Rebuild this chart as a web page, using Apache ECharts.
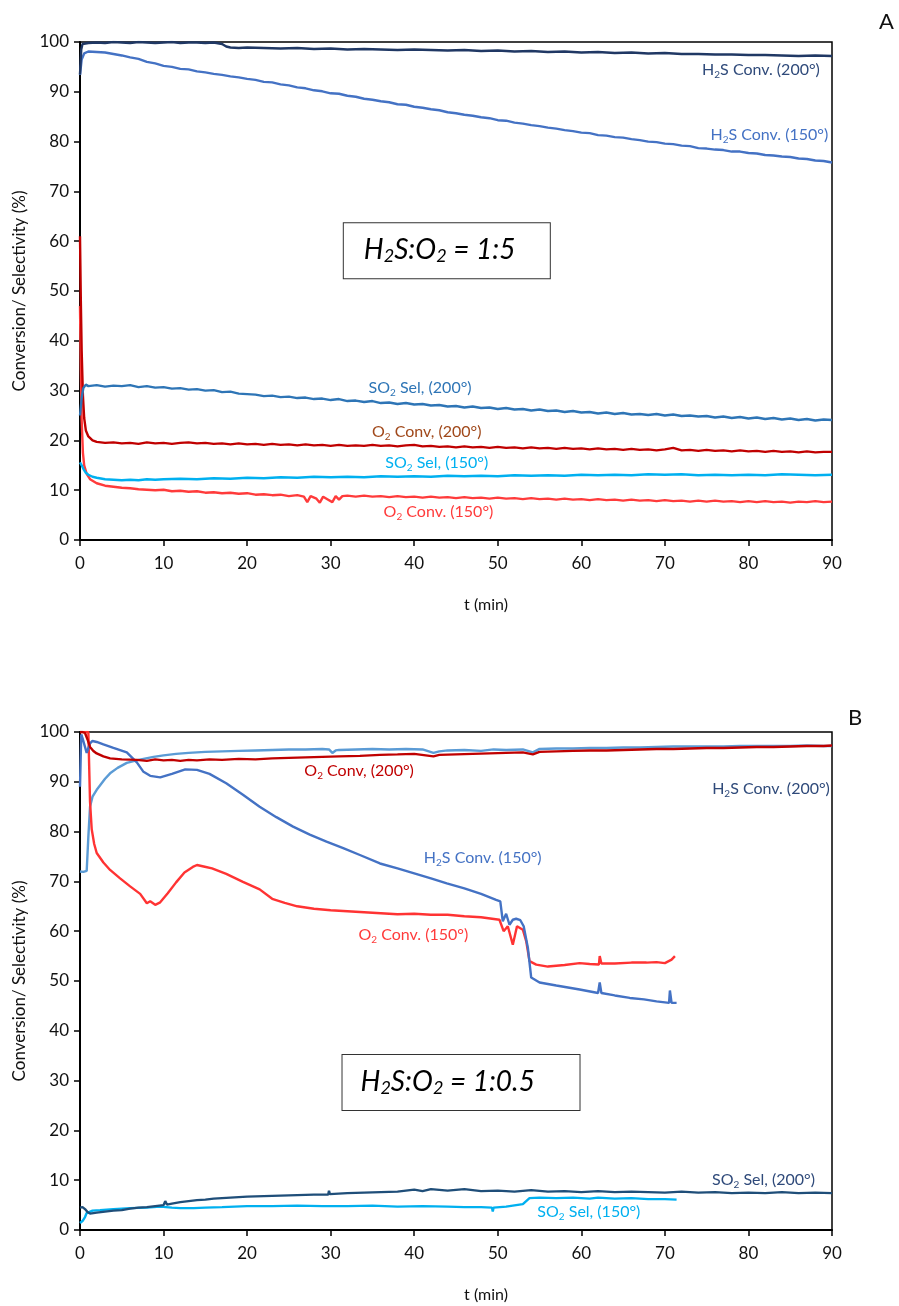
<!DOCTYPE html>
<html>
<head>
<meta charset="utf-8">
<script src="https://cdn.jsdelivr.net/npm/echarts@6/dist/echarts.min.js"></script>
<style>
  html, body { margin: 0; padding: 0; background: #fff; }
  #chart { width: 899px; height: 1306px; }
</style>
</head>
<body>
<div id="chart"></div>
<script>
// ---------- axes ----------
const tRange = [0, 90];
const tStep = 10;
const yRange = [0, 100];
const yStep = 10;
const xAxisName = 't (min)';
const yAxisName = 'Conversion/ Selectivity (%)';

// ---------- panel A  (H2S:O2 = 1:5) ----------  [t (min), value (%)]
const a_h2s200 = [[0,93.5],[0.15,98.5],[0.3,99.6],[1,99.8],[2,99.9],[3,99.8],[4,100],[5,99.9],[6,99.8],[7,100],[8,99.9],[9,99.8],[10,99.9],[11,100],[12,99.8],[13,99.9],[14,99.9],[15,99.8],[16,99.9],[17,99.6],[17.5,99.1],[18,98.9],[19,98.8],[20,98.9],[22,98.8],[24,98.7],[26,98.8],[28,98.6],[30,98.7],[32,98.5],[34,98.6],[36,98.5],[38,98.4],[40,98.5],[42,98.4],[44,98.3],[46,98.4],[48,98.2],[50,98.3],[52,98.1],[54,98.2],[56,98.0],[58,98.1],[60,97.9],[62,98.0],[64,97.8],[66,97.9],[68,97.7],[70,97.8],[72,97.6],[74,97.6],[76,97.5],[78,97.5],[80,97.4],[82,97.4],[84,97.3],[86,97.2],[88,97.3],[90,97.2]];
const a_h2s150 = [[0,93.4],[0.2,96.5],[0.5,97.7],[1,98.1],[2,98.0],[3,97.9],[4,97.6],[5,97.3],[6,96.9],[7,96.6],[8,96.0],[9,95.7],[10,95.2],[11,95.0],[12,94.6],[13,94.5],[14,94.1],[15,93.9],[16,93.6],[17,93.4],[18,93.1],[19,92.9],[20,92.6],[21,92.4],[22,92.0],[23,91.9],[24,91.5],[25,91.3],[26,90.9],[27,90.7],[28,90.3],[29,90.1],[30,89.7],[31,89.6],[32,89.2],[33,89.0],[34,88.6],[35,88.4],[36,88.1],[37,87.9],[38,87.5],[39,87.4],[40,87.0],[41,86.8],[42,86.5],[43,86.3],[44,85.9],[45,85.7],[46,85.4],[47,85.2],[48,84.9],[49,84.7],[50,84.3],[51,84.2],[52,83.8],[53,83.6],[54,83.3],[55,83.1],[56,82.8],[57,82.6],[58,82.3],[59,82.1],[60,81.8],[61,81.7],[62,81.3],[63,81.2],[64,80.9],[65,80.8],[66,80.5],[67,80.3],[68,80.0],[69,79.9],[70,79.6],[71,79.5],[72,79.2],[73,79.1],[74,78.7],[75,78.6],[76,78.4],[77,78.3],[78,78.0],[79,78.0],[80,77.7],[81,77.6],[82,77.3],[83,77.2],[84,77.0],[85,76.9],[86,76.6],[87,76.5],[88,76.2],[89,76.1],[90,75.8]];
const a_so2sel200 = [[0,25],[0.2,28.5],[0.4,30.5],[0.7,31.2],[1,30.9],[2,31.1],[3,30.8],[4,31.0],[5,30.9],[6,31.1],[7,30.7],[8,30.9],[9,30.6],[10,30.7],[11,30.4],[12,30.5],[13,30.2],[14,30.3],[15,30.0],[16,30.1],[17,29.7],[18,29.8],[19,29.4],[20,29.3],[21,29.2],[22,28.9],[23,29.0],[24,28.7],[25,28.8],[26,28.5],[27,28.6],[28,28.3],[29,28.4],[30,28.1],[31,28.3],[32,27.9],[33,28.0],[34,27.7],[35,27.9],[36,27.5],[37,27.6],[38,27.3],[39,27.5],[40,27.2],[41,27.3],[42,27.0],[43,27.1],[44,26.8],[45,26.9],[46,26.6],[47,26.8],[48,26.5],[49,26.6],[50,26.3],[51,26.5],[52,26.2],[53,26.3],[54,26.0],[55,26.2],[56,25.9],[57,26.0],[58,25.7],[59,25.9],[60,25.6],[61,25.7],[62,25.4],[63,25.6],[64,25.3],[65,25.5],[66,25.2],[67,25.3],[68,25.1],[69,25.3],[70,25.0],[71,25.2],[72,24.9],[73,25.0],[74,24.8],[75,24.9],[76,24.6],[77,24.8],[78,24.5],[79,24.7],[80,24.4],[81,24.6],[82,24.3],[83,24.5],[84,24.2],[85,24.4],[86,24.1],[87,24.3],[88,24.0],[89,24.2],[90,24.1]];
const a_o2conv200 = [[0,61],[0.1,48],[0.2,38],[0.35,29],[0.5,24.5],[0.7,22],[1,20.8],[1.5,20.0],[2,19.7],[3,19.5],[4,19.6],[5,19.4],[6,19.5],[7,19.3],[8,19.6],[9,19.4],[10,19.5],[11,19.3],[12,19.5],[13,19.6],[14,19.4],[15,19.5],[16,19.3],[17,19.4],[18,19.2],[19,19.4],[20,19.2],[21,19.3],[22,19.1],[23,19.3],[24,19.1],[25,19.2],[26,19.0],[27,19.2],[28,19.0],[29,19.1],[30,18.9],[31,19.1],[32,18.9],[33,19.0],[34,18.9],[35,19.1],[36,18.9],[37,19.0],[38,18.8],[39,19.0],[40,19.1],[41,18.8],[42,18.9],[43,18.7],[44,18.8],[45,18.6],[46,18.8],[47,18.6],[48,18.7],[49,18.5],[50,18.7],[51,18.5],[52,18.6],[53,18.4],[54,18.6],[55,18.4],[56,18.5],[57,18.3],[58,18.5],[59,18.3],[60,18.4],[61,18.2],[62,18.4],[63,18.2],[64,18.3],[65,18.1],[66,18.3],[67,18.1],[68,18.2],[69,18.0],[70,18.2],[71,18.5],[72,18.0],[73,18.1],[74,17.9],[75,18.1],[76,17.9],[77,18.0],[78,17.8],[79,18.0],[80,17.8],[81,17.9],[82,17.7],[83,17.9],[84,17.7],[85,17.8],[86,17.6],[87,17.8],[88,17.6],[89,17.7],[90,17.7]];
const a_so2sel150 = [[0,15.6],[0.2,15.0],[0.4,14.3],[0.7,13.5],[1,13.1],[1.5,12.7],[2,12.5],[3,12.2],[4,12.1],[5,12.0],[6,12.1],[7,12.0],[8,12.2],[9,12.1],[10,12.2],[12,12.3],[14,12.2],[16,12.4],[18,12.3],[20,12.5],[22,12.4],[24,12.6],[26,12.5],[28,12.7],[30,12.6],[32,12.7],[34,12.6],[36,12.8],[38,12.7],[40,12.8],[42,12.7],[44,12.9],[46,12.8],[48,12.9],[50,12.8],[52,13.0],[54,12.9],[56,13.0],[58,12.9],[60,13.1],[62,13.0],[64,13.1],[66,13.0],[68,13.2],[70,13.1],[72,13.2],[74,13.0],[76,13.1],[78,13.0],[80,13.1],[82,13.0],[84,13.2],[86,13.1],[88,13.0],[90,13.1]];
const a_o2conv150 = [[0,47],[0.1,34],[0.2,24],[0.35,17.5],[0.5,15.0],[0.8,13.3],[1.2,12.2],[2,11.4],[3,10.9],[4,10.7],[5,10.5],[6,10.4],[7,10.2],[8,10.1],[9,10.0],[10,10.1],[11,9.8],[12,9.9],[13,9.7],[14,9.8],[15,9.5],[16,9.6],[17,9.4],[18,9.5],[19,9.3],[20,9.4],[21,9.1],[22,9.2],[23,9.0],[24,9.1],[25,8.8],[26,9.0],[26.8,8.7],[27.2,7.6],[27.6,8.8],[28.3,8.3],[28.7,7.5],[29.1,8.7],[29.6,8.2],[30.2,7.6],[30.6,8.8],[31,8.1],[31.4,8.8],[32,8.9],[33,8.7],[34,8.9],[35,8.7],[36,8.8],[37,8.6],[38,8.8],[39,8.6],[40,8.7],[41,8.5],[42,8.7],[43,8.5],[44,8.6],[45,8.4],[46,8.6],[47,8.4],[48,8.5],[49,8.3],[50,8.5],[51,8.3],[52,8.4],[53,8.2],[54,8.4],[55,8.2],[56,8.3],[57,8.1],[58,8.3],[59,8.1],[60,8.2],[61,8.0],[62,8.2],[63,8.0],[64,8.1],[65,7.9],[66,8.1],[67,7.9],[68,8.0],[69,7.8],[70,8.0],[71,7.8],[72,7.9],[73,7.7],[74,7.9],[75,7.7],[76,7.9],[77,7.7],[78,7.8],[79,7.6],[80,7.8],[81,7.6],[82,7.8],[83,7.6],[84,7.7],[85,7.5],[86,7.7],[87,7.6],[88,7.8],[89,7.6],[90,7.7]];

// ---------- panel B  (H2S:O2 = 1:0.5) ----------
const b_h2s200 = [[0,72.0],[0.4,71.9],[0.8,72.1],[1.0,79],[1.2,85],[1.5,87],[2,88.4],[2.5,89.5],[3,90.6],[3.6,91.7],[4.5,92.8],[5.6,93.8],[7,94.4],[8.8,95.0],[10,95.3],[11.5,95.6],[13,95.8],[15,96.0],[17,96.1],[19,96.2],[21,96.3],[23,96.4],[25,96.5],[27,96.5],[29,96.6],[29.8,96.5],[30.2,95.8],[30.6,96.3],[31,96.4],[33,96.5],[35,96.6],[37,96.5],[39,96.6],[41,96.5],[42.3,95.8],[43,96.1],[44,96.3],[46,96.4],[48,96.2],[49.5,96.5],[51,96.4],[53,96.5],[54.2,95.9],[55,96.6],[57,96.7],[59,96.7],[61,96.8],[63,96.8],[65,96.9],[67,96.9],[69,97.0],[71,97.1],[73,97.1],[75,97.1],[77,97.1],[79,97.2],[81,97.2],[83,97.2],[85,97.2],[87,97.3],[89,97.2],[90,97.2]];
const b_h2s150 = [[0,89],[0.15,99.5],[0.35,98.5],[0.8,95.8],[1.2,97.7],[1.5,98.2],[2,98.0],[2.8,97.5],[4,96.8],[5.6,95.9],[6.8,93.9],[7.6,92.0],[8.4,91.2],[9.6,90.9],[11,91.6],[12.6,92.5],[14,92.4],[15.5,91.6],[17.5,89.7],[19.5,87.4],[21.5,85.0],[23.5,82.9],[25.5,81.0],[27.5,79.4],[29.5,78.0],[31.5,76.7],[33.5,75.3],[35.9,73.6],[38,72.6],[40,71.6],[42,70.6],[43.9,69.6],[46,68.6],[48,67.5],[49.8,66.3],[50.3,66.0],[50.6,62.0],[51,63.5],[51.4,61.3],[51.8,62.3],[52.2,62.5],[52.7,62.2],[53.1,61.0],[53.6,56.7],[54,50.7],[55,49.7],[57,49.1],[59.8,48.3],[62,47.6],[62.2,49.7],[62.4,47.6],[64,47.1],[65.8,46.6],[67.5,46.3],[69,45.9],[70.5,45.6],[70.6,48.1],[70.8,45.6],[71.4,45.6]];
const b_o2conv200 = [[0,100],[0.3,100],[0.6,99.8],[0.9,98.5],[1.2,97.0],[1.6,96.2],[2,95.7],[2.8,95.1],[3.6,94.7],[5,94.5],[6.8,94.4],[8,94.2],[9,94.5],[10,94.3],[11,94.4],[12,94.2],[13,94.4],[14,94.3],[15.5,94.5],[17,94.4],[19,94.6],[21,94.5],[23,94.7],[25,94.8],[27,94.9],[29,95.0],[31,95.1],[33.5,95.2],[35.9,95.4],[38,95.5],[40,95.6],[42.3,95.1],[43,95.4],[45,95.5],[47,95.6],[49,95.7],[51,95.8],[53,95.9],[54.2,95.5],[55,96.0],[57,96.1],[59,96.2],[61,96.3],[63,96.3],[65,96.4],[67,96.5],[69,96.6],[71,96.6],[73,96.7],[75,96.8],[77,96.8],[79,96.9],[81,97.0],[83,97.0],[85,97.1],[87,97.2],[89,97.2],[90,97.3]];
const b_o2conv150 = [[0,100],[0.3,100],[0.6,100],[1.0,100],[1.1,93],[1.2,86],[1.4,80.5],[1.7,77.5],[2,75.7],[2.8,73.8],[3.6,72.3],[4.8,70.6],[6,69.0],[7.2,67.5],[8.0,65.6],[8.4,66.0],[9,65.3],[9.6,65.8],[10.5,67.6],[11.5,69.8],[12.5,71.8],[13.5,72.9],[14,73.3],[14.8,73.0],[15.8,72.6],[17.5,71.5],[19.5,69.9],[21.5,68.4],[23,66.5],[24.5,65.7],[26,65.0],[28,64.5],[30,64.2],[32,64.0],[34,63.8],[36,63.6],[38,63.4],[40,63.5],[42,63.3],[44,63.3],[46,63.0],[48,62.8],[50.2,62.3],[50.7,60.0],[51.2,61.0],[51.8,57.3],[52.3,61.0],[53,60.3],[53.4,58.0],[53.8,54.0],[54.6,53.3],[56,52.9],[58,53.2],[59.8,53.6],[61,53.4],[62.1,53.3],[62.2,55.0],[62.4,53.5],[64,53.5],[66,53.7],[67.8,53.7],[69,53.8],[70,53.6],[70.8,54.3],[71.2,55.0]];
const b_so2sel200 = [[0,4.5],[0.3,4.6],[0.6,4.2],[0.9,3.6],[1.2,3.3],[2,3.5],[3,3.7],[4,3.9],[5,4.0],[6,4.3],[7,4.5],[8,4.6],[9,4.8],[10,5.0],[10.2,5.8],[10.4,5.1],[11,5.3],[12,5.6],[13,5.8],[14,6.0],[15,6.1],[16,6.3],[17,6.4],[18,6.5],[19,6.6],[20,6.7],[22,6.8],[24,6.9],[26,7.0],[28,7.1],[29.7,7.1],[29.8,7.9],[29.9,7.2],[32,7.4],[34,7.5],[36,7.6],[38,7.7],[40,8.1],[41,7.8],[42,8.2],[44,7.9],[46,8.2],[48,7.8],[50,7.9],[52,7.7],[54,8.0],[56,7.7],[58,7.8],[60,7.6],[62,7.8],[64,7.6],[66,7.7],[68,7.6],[70,7.5],[72,7.7],[74,7.5],[76,7.6],[78,7.4],[80,7.5],[82,7.4],[84,7.6],[86,7.4],[88,7.5],[90,7.4]];
const b_so2sel150 = [[0,1.4],[0.3,1.8],[0.6,2.6],[0.8,3.4],[1,3.8],[1.5,3.9],[2.4,4.0],[4,4.2],[6,4.4],[8,4.5],[9.6,4.7],[11,4.5],[12,4.4],[13.6,4.4],[15,4.5],[17,4.6],[20,4.8],[23,4.8],[26,4.9],[29,4.8],[32,4.8],[35,4.9],[38,4.7],[41,4.8],[44,4.7],[46,4.6],[48,4.6],[49.3,4.5],[49.4,3.7],[49.5,4.5],[51,4.7],[52.2,5.0],[53,5.2],[53.8,6.4],[55,6.5],[57,6.4],[59,6.5],[61,6.3],[62,6.5],[64,6.3],[66,6.4],[68,6.2],[70,6.2],[71.4,6.1]];

const FONT = 'Lato, "Open Sans", sans-serif';

// rich-text styles: normal text plus a lowered, smaller subscript
function richFor(color, size) {
  return {
    n: { fontFamily: FONT, fontSize: size, color: color, lineHeight: 20, verticalAlign: 'middle' },
    s: { fontFamily: FONT, fontSize: Math.round(size * 0.65), color: color, lineHeight: 10, verticalAlign: 'bottom' }
  };
}

// curve annotation anchored at [t, value]
function tag(text, color, coord) {
  return {
    coord: coord,
    symbol: 'circle',
    symbolSize: 0,
    itemStyle: { color: 'rgba(0,0,0,0)' },
    label: {
      show: true,
      position: 'inside',
      formatter: text,
      rich: richFor(color, 16)
    }
  };
}

// framed feed-ratio caption anchored at [t, value]
function ratioBox(text, coord, w, padLeft) {
  return {
    coord: coord,
    symbol: 'circle',
    symbolSize: 0,
    itemStyle: { color: 'rgba(0,0,0,0)' },
    label: {
      show: true,
      position: 'inside',
      formatter: text,
      width: w,
      padding: [12, 0, 13, padLeft],
      borderColor: '#333',
      borderWidth: 1,
      backgroundColor: '#fff',
      rich: {
        b: { fontFamily: FONT, fontStyle: 'italic', fontSize: 28, color: '#000', lineHeight: 30, verticalAlign: 'middle', align: 'left' },
        bs: { fontFamily: FONT, fontStyle: 'italic', fontSize: 18, color: '#000', lineHeight: 14, verticalAlign: 'bottom', align: 'left' }
      }
    }
  };
}

function line(name, data, color, gi, marks, z) {
  const s = {
    name: name,
    type: 'line',
    xAxisIndex: gi,
    yAxisIndex: gi,
    data: data,
    showSymbol: false,
    symbol: 'none',
    sampling: 'none',
    z: z || 2,
    lineStyle: { color: color, width: 2.4 },
    itemStyle: { color: color },
    emphasis: { disabled: true }
  };
  if (marks) {
    s.markPoint = { silent: true, animation: false, data: marks };
  }
  return s;
}

const axisCommon = {
  axisLine: { show: true, onZero: false, lineStyle: { color: '#000', width: 2 } },
  axisTick: { show: true, inside: false, length: 6, lineStyle: { color: '#000', width: 1.5 } },
  splitLine: { show: false }
};

function xAxisFor(gi) {
  return Object.assign({}, axisCommon, {
    gridIndex: gi, type: 'value', min: tRange[0], max: tRange[1], interval: tStep,
    name: xAxisName, nameLocation: 'middle', nameGap: 57,
    nameTextStyle: { fontFamily: FONT, fontSize: 16, color: '#111', padding: [0, 0, 0, 60] },
    axisLabel: { fontFamily: FONT, fontSize: 17, color: '#111', margin: 15 }
  });
}
function yAxisFor(gi) {
  return Object.assign({}, axisCommon, {
    gridIndex: gi, type: 'value', min: yRange[0], max: yRange[1], interval: yStep,
    name: yAxisName, nameLocation: 'middle', nameGap: 52,
    nameTextStyle: { fontFamily: FONT, fontSize: 17, color: '#111' },
    axisLabel: { fontFamily: FONT, fontSize: 17, color: '#111', margin: 11 }
  });
}

const chart = echarts.init(document.getElementById('chart'), null, { renderer: 'canvas' });

const option = {
  animation: false,
  backgroundColor: '#fff',
  grid: [
    { left: 80, top: 42, width: 752, height: 498, show: true, borderColor: '#000', borderWidth: 1.5, containLabel: false },
    { left: 80, top: 732, width: 752, height: 498, show: true, borderColor: '#000', borderWidth: 1.5, containLabel: false }
  ],
  xAxis: [xAxisFor(0), xAxisFor(1)],
  yAxis: [yAxisFor(0), yAxisFor(1)],
  graphic: [
    { type: 'text', left: 879, top: 11, style: { text: 'A', fontFamily: FONT, fontSize: 22, fill: '#111' } },
    { type: 'text', left: 848, top: 707, style: { text: 'B', fontFamily: FONT, fontSize: 22, fill: '#111' } }
  ],
  series: [
    // panel A
    line('O2 Conv (150°)', a_o2conv150, '#FF3B3B', 0, [tag('{n|O}{s|2}{n| Conv. (150°)}', '#FF3B3B', [42.9, 5.6])]),
    line('SO2 Sel (150°)', a_so2sel150, '#00B0F0', 0, [tag('{n|SO}{s|2}{n| Sel, (150°)}', '#00B0F0', [42.7, 15.5])]),
    line('O2 Conv (200°)', a_o2conv200, '#C00000', 0, [tag('{n|O}{s|2}{n| Conv, (200°)}', '#A0481A', [41.5, 21.7])]),
    line('SO2 Sel (200°)', a_so2sel200, '#2E75B6', 0, [tag('{n|SO}{s|2}{n| Sel, (200°)}', '#2E75B6', [40.7, 30.5])]),
    line('H2S Conv (150°)', a_h2s150, '#4472C4', 0, [tag('{n|H}{s|2}{n|S Conv. (150°)}', '#4472C4', [82.5, 81.3])]),
    line('H2S Conv (200°)', a_h2s200, '#203864', 0, [tag('{n|H}{s|2}{n|S Conv. (200°)}', '#2F4A7A', [81.5, 94.4])], 3),
    {
      type: 'scatter', xAxisIndex: 0, yAxisIndex: 0, data: [], silent: true,
      markPoint: { silent: true, animation: false, data: [ratioBox('{b|H}{bs|2}{b|S:O}{bs|2}{b| = 1:5}', [43.9, 58.1], 186, 20)] }
    },
    // panel B
    line('SO2 Sel (150°)', b_so2sel150, '#00B0F0', 1, [tag('{n|SO}{s|2}{n| Sel, (150°)}', '#00B0F0', [60.9, 3.6])]),
    line('SO2 Sel (200°)', b_so2sel200, '#1F4E79', 1, [tag('{n|SO}{s|2}{n| Sel, (200°)}', '#2F4A7A', [81.8, 10.0])], 3),
    line('H2S Conv (200°)', b_h2s200, '#5B9BD5', 1, [tag('{n|H}{s|2}{n|S Conv. (200°)}', '#2F4A7A', [82.7, 88.6])]),
    line('O2 Conv (150°)', b_o2conv150, '#FF3333', 1, [tag('{n|O}{s|2}{n| Conv. (150°)}', '#FF3B3B', [39.9, 59.2])]),
    line('H2S Conv (150°)', b_h2s150, '#4472C4', 1, [tag('{n|H}{s|2}{n|S Conv. (150°)}', '#4472C4', [48.2, 74.7])]),
    line('O2 Conv (200°)', b_o2conv200, '#C00000', 1, [tag('{n|O}{s|2}{n| Conv, (200°)}', '#C00000', [33.4, 92.2])], 3),
    {
      type: 'scatter', xAxisIndex: 1, yAxisIndex: 1, data: [], silent: true,
      markPoint: { silent: true, animation: false, data: [ratioBox('{b|H}{bs|2}{b|S:O}{bs|2}{b| = 1:0.5}', [45.6, 29.6], 219, 18)] }
    }
  ]
};

chart.setOption(option);
</script>
</body>
</html>
